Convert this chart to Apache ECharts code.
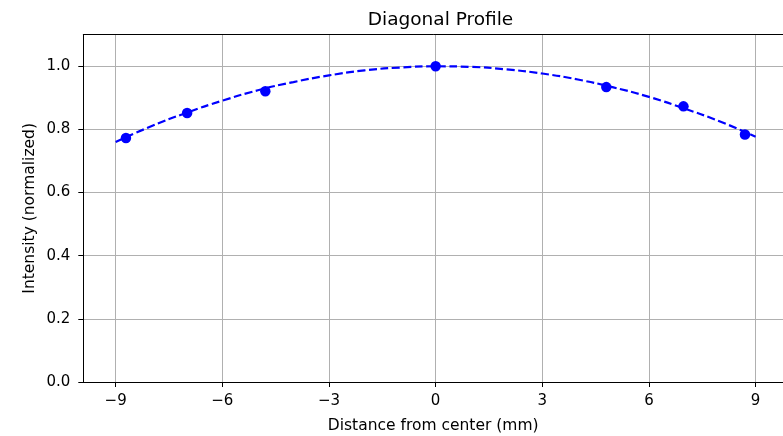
<!DOCTYPE html>
<html><head><meta charset="utf-8">
<script src="https://cdn.jsdelivr.net/npm/echarts@6/dist/echarts.min.js"></script>
<style>html,body{margin:0;padding:0;background:#fff}#c{width:783px;height:436px}</style>
</head><body><div id="c"></div>
<script>
// Measured points
const pointX = [-8.71, -6.99, -4.79, 0.0, 4.80, 6.97, 8.70];
const pointY = [0.773, 0.852, 0.921, 1.000, 0.934, 0.873, 0.784];
// Dashed fit curve
const curveX = [-9, -8, -7, -6, -5, -4, -3, -2, -1, 0, 1, 2, 3, 4, 5, 6, 7, 8, 9];
const curveY = [0.760, 0.810, 0.853, 0.891, 0.924, 0.950, 0.971, 0.987, 0.996, 1.000, 0.998, 0.990, 0.977, 0.958, 0.933, 0.903, 0.866, 0.825, 0.777];
const xTicks = [-9, -6, -3, 0, 3, 6, 9];
const yTicks = [0, 0.2, 0.4, 0.6, 0.8, 1.0];

const chart = echarts.init(document.getElementById('c'), null, {renderer: 'canvas'});
const font = 'DejaVu Sans';
const grey = '#b0b0b0';
const XMIN = -9.91, XMAX = 9.77;
chart.setOption({
  animation: false,
  backgroundColor: '#fff',
  title: {
    text: 'Diagonal Profile', left: 435.5, top: 6, textAlign: 'center',
    textStyle: {fontFamily: font, fontSize: 18.5, fontWeight: 'normal', color: '#000'}
  },
  grid: {left: 83.3, top: 34.7, right: 0, bottom: 54, show: false, containLabel: false, outerBoundsMode: 'none'},
  xAxis: [{
    type: 'value', min: XMIN, max: XMAX,
    name: 'Distance from center (mm)', nameLocation: 'middle', nameGap: 35.5, nameMoveOverlap: false,
    nameTextStyle: {fontFamily: font, fontSize: 15.5, color: '#000'},
    axisLine: {show: true, onZero: false, lineStyle: {color: '#000', width: 1}},
    axisTick: {show: true, inside: false, length: 5, customValues: xTicks, lineStyle: {color: '#000', width: 1}},
    axisLabel: {customValues: xTicks, margin: 12, fontFamily: font, fontSize: 15, color: '#000',
      formatter: v => v < 0 ? '\u2212' + Math.abs(v) : String(v)},
    splitLine: {show: true, lineStyle: {color: grey, width: 1}}
  }, {
    type: 'value', min: XMIN, max: XMAX, position: 'top',
    axisLine: {show: true, onZero: false, lineStyle: {color: '#000', width: 1}},
    axisTick: {show: false}, axisLabel: {show: false}, splitLine: {show: false}
  }],
  yAxis: {
    type: 'value', min: 0, max: 1.1,
    name: 'Intensity (normalized)', nameLocation: 'middle', nameGap: 45, nameMoveOverlap: false,
    nameTextStyle: {fontFamily: font, fontSize: 15.5, color: '#000'},
    axisLine: {show: true, onZero: false, lineStyle: {color: '#000', width: 1}},
    axisTick: {show: true, inside: false, length: 5, customValues: yTicks, lineStyle: {color: '#000', width: 1}},
    axisLabel: {customValues: yTicks, margin: 13, fontFamily: font, fontSize: 15, color: '#000',
      formatter: v => v.toFixed(1)},
    splitLine: {show: true, lineStyle: {color: grey, width: 1}}
  },
  series: [
    {
      type: 'line', data: curveX.map((x, i) => [x, curveY[i]]), smooth: true, showSymbol: false, symbol: 'none',
      lineStyle: {color: '#0000ff', width: 2.2, type: [8, 3.5]}, z: 2
    },
    {
      type: 'scatter', data: pointX.map((x, i) => [x, pointY[i]]), symbol: 'circle', symbolSize: 10.5,
      itemStyle: {color: '#0000ff', opacity: 1}, z: 3
    }
  ]
});
</script></body></html>
